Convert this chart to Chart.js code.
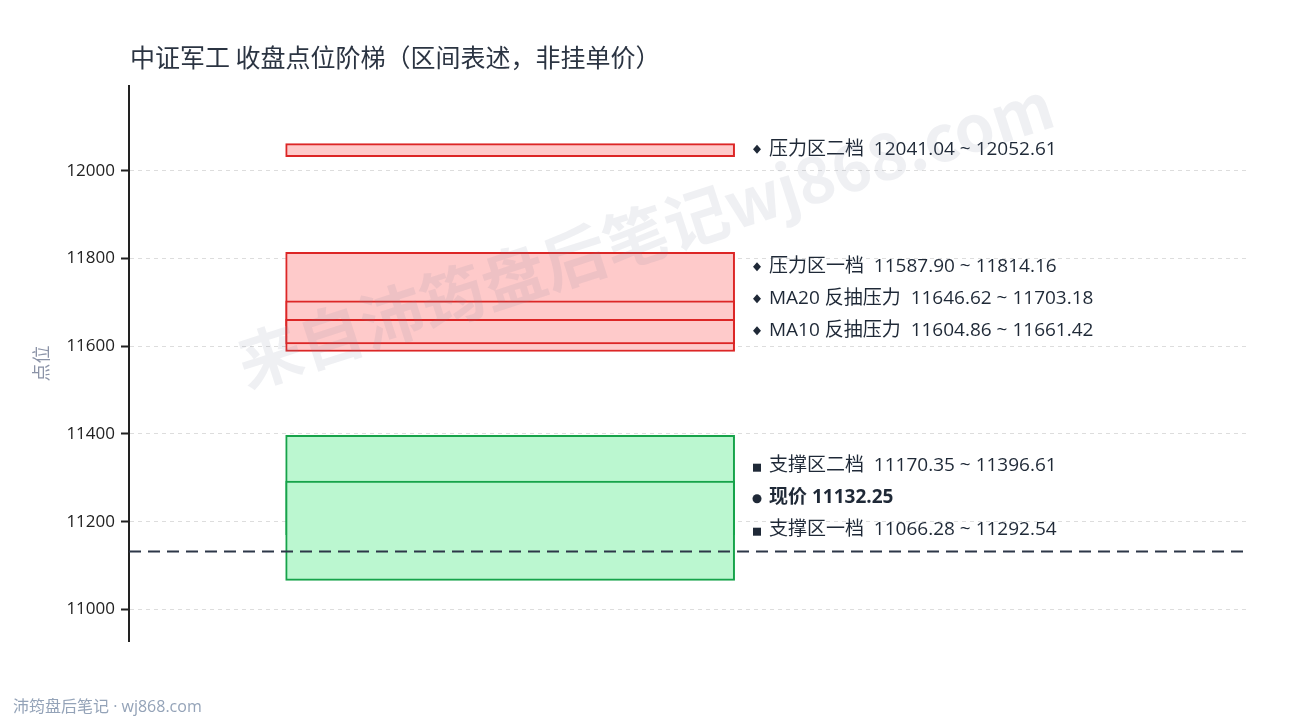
<!DOCTYPE html>
<html>
<head>
<meta charset="utf-8">
<title>中证军工 收盘点位阶梯</title>
<script src="https://cdn.jsdelivr.net/npm/chart.js@4.4.1/dist/chart.umd.min.js"></script>
<style>
  html, body { margin: 0; padding: 0; background: #fff; }
  #wrap { width: 1290px; height: 720px; }
</style>
</head>
<body>
<div id="wrap"><canvas id="ladder" width="1290" height="720"></canvas></div>
<script>
(function() {
    'use strict';

    // Zones, in drawing order (later ones sit on top)
    const zoneNames = ['压力区二档', '压力区一档', 'MA20 反抽压力', 'MA10 反抽压力', '支撑区二档', '支撑区一档'];
    const zoneLow = [12041.04, 11587.90, 11646.62, 11604.86, 11170.35, 11066.28];
    const zoneHigh = [12052.61, 11814.16, 11703.18, 11661.42, 11396.61, 11292.54];
    const zoneKind = ['pressure', 'pressure', 'pressure', 'pressure', 'support', 'support'];

    // Current close
    const priceName = '现价';
    const currentPrice = 11132.25;

    // Label list top to bottom (zone index, or -1 for the current price)
    const labelOrder = [0, 1, 2, 3, 4, -1, 5];

    // Y axis
    const yTicks = [11000, 11200, 11400, 11600, 11800, 12000];
    const yMin = 10928;
    const yMax = 12193;

    const LATIN = '"Open Sans", "Noto Sans CJK SC", sans-serif';
    const CJK = '"Noto Sans CJK SC", "Noto Sans", sans-serif';
    const colors = {
        pressure: { fill: '#fecaca', border: '#dc2626' },
        support: { fill: '#bbf7d0', border: '#16a34a' },
        price: '#2d3748',
        text: '#1f2937'
    };

    // Thin zones get a minimum visible height (in index points)
    const MIN_SPAN = 30;
    function shownRange(i) {
        const lo = zoneLow[i], hi = zoneHigh[i];
        if (hi - lo >= MIN_SPAN) return [lo, hi];
        const mid = (lo + hi) / 2;
        return [mid - MIN_SPAN / 2, mid + MIN_SPAN / 2];
    }

    const datasets = zoneNames.map((name, i) => ({
        type: 'bar',
        label: name,
        data: [{ x: 0.34, y: shownRange(i) }],
        backgroundColor: colors[zoneKind[i]].fill,
        borderColor: colors[zoneKind[i]].border,
        borderWidth: 2,
        borderSkipped: false,
        barThickness: 449,
        stack: 'zones',
        order: zoneNames.length - i + 1
    }));

    datasets.push({
        type: 'line',
        label: priceName,
        data: [{ x: 0, y: currentPrice }, { x: 1, y: currentPrice }],
        borderColor: colors.price,
        borderWidth: 2,
        borderDash: [12, 7],
        pointRadius: 0,
        order: 0
    });

    const decor = {
        id: 'decor',
        beforeDraw(chart) {
            const ctx = chart.ctx;
            ctx.save();
            ctx.fillStyle = '#ffffff';
            ctx.fillRect(0, 0, chart.width, chart.height);
            ctx.restore();
        },
        afterDraw(chart) {
            const ctx = chart.ctx;
            const y = chart.scales.y;

            // title
            ctx.save();
            ctx.fillStyle = '#2b3442';
            ctx.font = '25px ' + CJK;
            ctx.textBaseline = 'middle';
            ctx.textAlign = 'left';
            ctx.fillText('中证军工 收盘点位阶梯（区间表述，非挂单价）', 130, 57);

            // footer
            ctx.fillStyle = '#94a3b8';
            ctx.font = '16px ' + LATIN;
            ctx.fillText('沛筠盘后笔记 · wj868.com', 13, 707);
            ctx.restore();

            // right-hand labels, pushed apart from the bottom upwards
            const items = labelOrder.map(idx => {
                if (idx < 0) {
                    return { kind: 'price', text: priceName + ' ' + currentPrice.toFixed(2), anchor: y.getPixelForValue(currentPrice) };
                }
                const mid = (zoneLow[idx] + zoneHigh[idx]) / 2;
                return {
                    kind: zoneKind[idx],
                    text: zoneNames[idx] + '  ' + zoneLow[idx].toFixed(2) + ' ~ ' + zoneHigh[idx].toFixed(2),
                    anchor: y.getPixelForValue(mid)
                };
            });
            const GAP = 32;
            let limit = Infinity;
            for (let i = items.length - 1; i >= 0; i--) {
                items[i].y = Math.min(items[i].anchor, limit);
                limit = items[i].y - GAP;
            }

            const markX = 757;
            const textX = 769;
            ctx.save();
            ctx.textBaseline = 'middle';
            ctx.textAlign = 'left';
            items.forEach(it => {
                const ly = it.y - 1;
                ctx.fillStyle = colors.text;
                ctx.beginPath();
                if (it.kind === 'pressure') {
                    ctx.moveTo(markX, ly - 4.5);
                    ctx.lineTo(markX + 4, ly);
                    ctx.lineTo(markX, ly + 4.5);
                    ctx.lineTo(markX - 4, ly);
                    ctx.closePath();
                    ctx.fill();
                } else if (it.kind === 'support') {
                    ctx.fillRect(markX - 4, ly - 2, 8, 8);
                } else {
                    ctx.arc(markX, ly + 1, 4.5, 0, Math.PI * 2);
                    ctx.fill();
                }
                ctx.font = (it.kind === 'price' ? 'bold ' : '') + '19px ' + LATIN;
                ctx.fillText(it.text, textX, ly);
            });
            ctx.restore();

            // watermark
            ctx.save();
            ctx.translate(645, 234);
            ctx.rotate(-18 * Math.PI / 180);
            ctx.fillStyle = 'rgba(120, 132, 160, 0.12)';
            ctx.font = 'bold 64px ' + CJK;
            ctx.textAlign = 'center';
            ctx.textBaseline = 'middle';
            ctx.fillText('来自沛筠盘后笔记wj868.com', 0, 0);
            ctx.restore();
        }
    };

    new Chart(document.getElementById('ladder').getContext('2d'), {
        data: { datasets: datasets },
        options: {
            responsive: false,
            animation: false,
            layout: { padding: { top: 86, bottom: 79, right: 40, left: 0 } },
            plugins: {
                legend: { display: false },
                tooltip: { enabled: false },
                title: { display: false }
            },
            scales: {
                x: {
                    type: 'linear',
                    min: 0,
                    max: 1,
                    offset: false,
                    display: false
                },
                y: {
                    type: 'linear',
                    min: yMin,
                    max: yMax,
                    stacked: false,
                    afterBuildTicks: scale => {
                        scale.ticks = yTicks.map(v => ({ value: v }));
                    },
                    afterFit: scale => {
                        scale.width = 129;
                    },
                    title: {
                        display: true,
                        text: '点位',
                        color: '#8b93a7',
                        font: { family: CJK, size: 18 },
                        padding: { top: 30, bottom: 0 }
                    },
                    ticks: {
                        color: '#222222',
                        padding: 6,
                        font: { family: LATIN, size: 17 },
                        callback: value => String(value)
                    },
                    grid: {
                        color: '#dddddd',
                        lineWidth: 1,
                        tickColor: '#222222',
                        tickWidth: 2,
                        tickLength: 8,
                        tickBorderDash: []
                    },
                    border: {
                        display: true,
                        color: '#222222',
                        width: 2,
                        dash: [4, 4]
                    }
                }
            }
        },
        plugins: [decor]
    });
})();
</script>
</body>
</html>
